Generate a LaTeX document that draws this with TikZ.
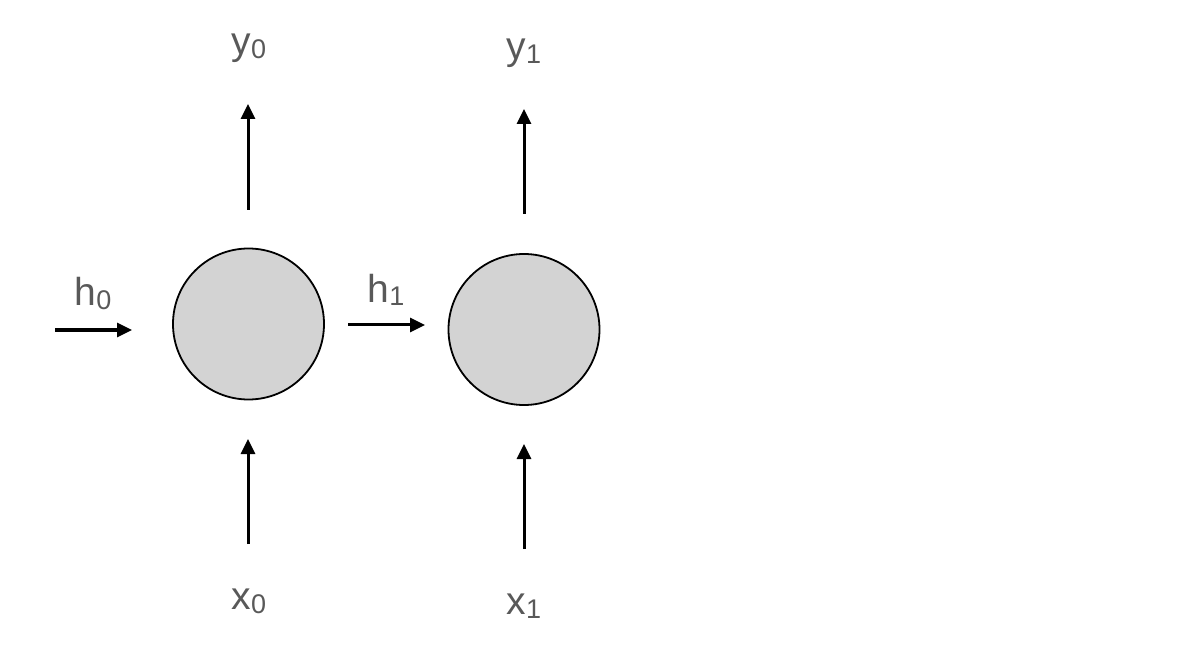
\documentclass[tikz,border=0pt]{standalone}
\usepackage{fontspec}
\setmainfont{Liberation Sans}
\usepackage{tikz}
\usetikzlibrary{arrows.meta}
\definecolor{labelgray}{RGB}{89,89,89}
\definecolor{cellgray}{RGB}{211,211,211}
\tikzset{
	cell/.style={circle, draw=black, line width=1.8pt, fill=cellgray, minimum size=151pt, inner sep=0pt},
	lbl/.style={anchor=base, text=labelgray, inner sep=0pt, font=\fontsize{39}{44}\selectfont},
	flow/.style={line width=3pt, -{Triangle[length=15pt,width=14pt]}}
}
\newcommand{\sub}[1]{\raisebox{-4pt}{\fontsize{27}{27}\selectfont #1}}

\begin{document}
\begin{tikzpicture}[x=1pt,y=-1pt]
	\useasboundingbox (0,0) rectangle (1186,660);
	
	\node [cell] (cell0) at (248.5,324) {};
	\node [cell] (cell1) at (524,329.5) {};
	
	\node [lbl] (y0) at (249,55) {y\sub{0}};
	\node [lbl] (y1) at (524,60) {y\sub{1}};
	\node [lbl] (h0) at (93,306) {h\sub{0}};
	\node [lbl] (h1) at (386,302) {h\sub{1}};
	\node [lbl] (x0) at (249,609) {x\sub{0}};
	\node [lbl] (x1) at (524,614) {x\sub{1}};
	
	\coordinate (y0s) at (248,210);
	\coordinate (y0e) at (248,104);
	\coordinate (y1s) at (524,214);
	\coordinate (y1e) at (524,109);
	\coordinate (x0s) at (248,544);
	\coordinate (x0e) at (248,439);
	\coordinate (x1s) at (524,549);
	\coordinate (x1e) at (524,444);
	\coordinate (h0s) at (55,330);
	\coordinate (h0e) at (132,330);
	\coordinate (h1s) at (348,325);
	\coordinate (h1e) at (425,325);
	
	\draw [flow] (y0s) -- (y0e);
	\draw [flow] (y1s) -- (y1e);
	\draw [flow] (x0s) -- (x0e);
	\draw [flow] (x1s) -- (x1e);
	\draw [flow] (h0s) -- (h0e);
	\draw [flow] (h1s) -- (h1e);
	
\end{tikzpicture}
\end{document}
